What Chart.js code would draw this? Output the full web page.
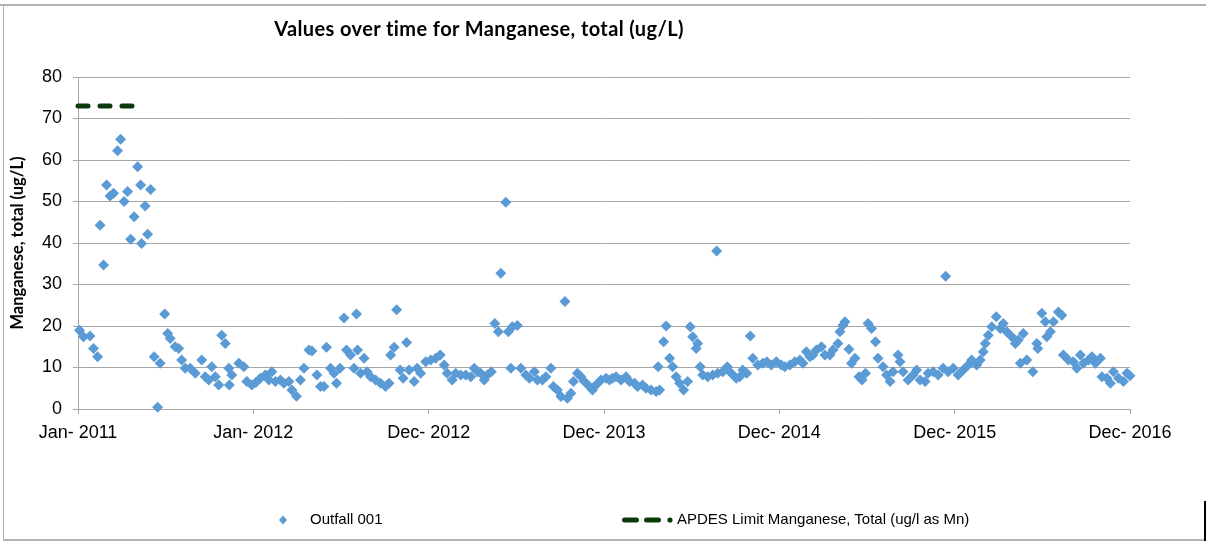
<!DOCTYPE html>
<html>
<head>
<meta charset="utf-8">
<script src="https://cdn.jsdelivr.net/npm/chart.js@4"></script>
<style>
  body { margin: 0; background: #fff; }
  #wrap { position: relative; width: 1206px; height: 541px; overflow: hidden; }
  #chart { position: absolute; left: 0; top: 0; }
  .frame { position: absolute; background: #b3b3b3; }
  #title { position: absolute; left: 0; width: 958px; top: 16px; text-align: center; letter-spacing: 0.4px;
           font: bold 20px Lato, "Liberation Sans", sans-serif; color: #000; }
  .leg { position: absolute; top: 510px; font: 15px "Liberation Sans", Arial, sans-serif; color: #000; }
</style>
</head>
<body>
<div id="wrap">
  <canvas id="chart" width="1206" height="541"></canvas>
  <div class="frame" style="left:0;top:4px;width:1206px;height:2px"></div>
  <div class="frame" style="left:3px;top:4px;width:1px;height:537px"></div>
  <div class="frame" style="left:3px;top:539px;width:1203px;height:2px"></div>
  <div style="position:absolute;left:1204px;top:501px;width:2px;height:40px;background:#000"></div>
  <div id="title">Values over time for Manganese, total (ug/L)</div>
  <div class="leg" style="left:277px">
    <svg width="12" height="18" style="vertical-align:middle"><polygon points="6,4.5 10,9 6,13.5 2,9" fill="#5b9bd5"/></svg>
  </div>
  <div class="leg" style="left:310px">Outfall 001</div>
  <div class="leg" style="left:620px">
    <svg width="56" height="18" style="vertical-align:middle">
      <line x1="4.5" y1="9" x2="40" y2="9" stroke="#0b3a0b" stroke-width="5" stroke-linecap="round" stroke-dasharray="12 10"/>
      <circle cx="50" cy="9" r="2.6" fill="#0b3a0b"/>
    </svg>
  </div>
  <div class="leg" style="left:677px">APDES Limit Manganese, Total (ug/l as Mn)</div>
</div>
<script>
// x axis: days since start of Jan 2011, ticks every 350 days
const tickLabels = ['Jan- 2011', 'Jan- 2012', 'Dec- 2012', 'Dec- 2013', 'Dec- 2014', 'Dec- 2015', 'Dec- 2016']

const sampleDays = [
  3, 11, 24, 31, 39, 44, 51, 57, 64, 71, 79, 85, 92, 99, 105, 112, 119, 125, 127, 134,
  139, 145, 152, 159, 164, 173, 179, 184, 194, 201, 207, 214, 224, 234, 247, 254, 261, 267, 274, 281,
  287, 294, 301, 302, 307, 321, 331, 337, 347, 355, 364, 374, 381, 387, 394, 404, 411, 421, 427, 436,
  444, 451, 461, 467, 477, 484, 491, 496, 504, 511, 516, 523, 531, 536, 544, 551, 556, 558, 564, 571,
  577, 584, 594, 604, 614, 621, 624, 631, 636, 643, 649, 656, 661, 671, 677, 684, 694, 704, 714, 723,
  731, 737, 747, 754, 764, 774, 784, 791, 797, 804, 811, 817, 825, 832, 839, 844, 854, 859, 864, 867,
  877, 884, 894, 901, 911, 917, 927, 934, 944, 949, 957, 964, 972, 977, 984, 989, 997, 1004, 1011, 1021,
  1027, 1034, 1044, 1054, 1061, 1067, 1074, 1084, 1094, 1101, 1111, 1117, 1127, 1134, 1144, 1154, 1158, 1161, 1169, 1174,
  1181, 1187, 1194, 1201, 1209, 1217, 1222, 1227, 1234, 1237, 1242, 1247, 1257, 1267, 1275, 1277, 1287, 1296, 1304, 1314,
  1321, 1327, 1335, 1342, 1347, 1357, 1367, 1375, 1384, 1394, 1404, 1411, 1421, 1431, 1441, 1447, 1454, 1461, 1467, 1474,
  1484, 1491, 1501, 1507, 1517, 1521, 1527, 1531, 1539, 1544, 1551, 1559, 1565, 1572, 1577, 1584, 1592, 1597, 1607, 1614,
  1621, 1627, 1637, 1641, 1647, 1657, 1667, 1674, 1681, 1691, 1697, 1707, 1717, 1727, 1732, 1737, 1747, 1757, 1767, 1777,
  1784, 1794, 1801, 1807, 1811, 1817, 1824, 1833, 1841, 1847, 1854, 1864, 1871, 1877, 1881, 1887, 1894, 1906, 1914, 1916,
  1924, 1931, 1934, 1941, 1947, 1957, 1964, 1967, 1977, 1987, 1994, 2001, 2007, 2017, 2024, 2031, 2041, 2044, 2054, 2061,
  2067, 2077, 2087, 2094, 2100
]
const outfall001 = [
  19.0, 17.4, 17.6, 14.6, 12.6, 44.3, 34.7, 54.0, 51.3, 52.0, 62.2, 65.0, 50.0, 52.4, 40.9, 46.3, 58.4, 54.0, 39.9, 48.9,
  42.1, 52.9, 12.6, 0.4, 11.0, 22.9, 18.2, 17.0, 15.0, 14.6, 11.8, 9.8, 9.8, 8.6, 11.8, 7.8, 7.0, 10.2, 7.8, 5.8,
  17.8, 15.8, 9.8, 5.8, 8.2, 11.0, 10.2, 6.6, 5.8, 6.4, 7.4, 8.2, 7.0, 9.0, 6.6, 7.0, 6.2, 6.6, 4.6, 3.1,
  7.0, 9.8, 14.2, 14.0, 8.2, 5.4, 5.4, 14.9, 9.8, 8.6, 6.2, 9.8, 21.9, 14.2, 13.0, 9.8, 22.9, 14.2, 8.6, 12.2,
  9.0, 7.8, 7.0, 6.2, 5.4, 6.2, 13.0, 14.9, 23.9, 9.4, 7.4, 16.0, 9.4, 6.6, 9.8, 8.6, 11.4, 11.8, 12.2, 13.0,
  10.6, 8.6, 7.0, 8.6, 8.2, 8.2, 7.8, 9.8, 9.0, 8.6, 7.0, 8.2, 9.0, 20.6, 18.6, 32.7, 49.8, 18.6, 9.8, 19.8,
  20.1, 9.8, 8.2, 7.4, 9.0, 7.0, 7.0, 7.8, 9.8, 5.4, 4.6, 3.0, 25.9, 2.6, 3.8, 6.6, 8.6, 7.8, 6.6, 5.4,
  4.6, 5.8, 7.0, 7.4, 7.0, 7.4, 7.8, 7.0, 7.8, 6.6, 6.2, 5.4, 5.8, 5.0, 4.6, 4.2, 10.2, 4.6, 16.2, 20.0,
  12.2, 10.2, 7.8, 6.2, 4.6, 6.6, 19.8, 17.4, 14.6, 15.8, 10.2, 8.2, 7.8, 8.2, 38.1, 8.6, 9.0, 10.2, 8.6, 7.4,
  7.8, 9.4, 8.6, 17.6, 12.2, 10.6, 11.0, 11.4, 10.6, 11.4, 10.6, 10.2, 10.6, 11.4, 11.8, 11.0, 13.8, 12.6, 13.0, 14.2,
  15.0, 13.0, 13.0, 14.2, 15.8, 18.6, 20.2, 21.0, 14.4, 11.0, 12.2, 7.8, 7.0, 8.6, 20.6, 19.4, 16.2, 12.2, 10.2, 8.2,
  6.6, 9.0, 13.0, 11.4, 9.0, 7.0, 8.2, 9.4, 7.0, 6.6, 8.6, 9.0, 8.2, 9.8, 32.0, 9.0, 9.8, 8.2, 9.4, 10.6,
  11.8, 10.6, 11.8, 13.8, 15.8, 17.8, 19.8, 22.2, 19.4, 20.6, 18.6, 17.4, 15.8, 16.6, 11.0, 18.2, 11.8, 9.0, 15.8, 14.6,
  23.1, 21.0, 17.4, 18.6, 21.0, 23.4, 22.6, 13.0, 11.8, 11.4, 9.8, 13.0, 11.0, 11.8, 12.6, 11.0, 12.2, 7.8, 7.4, 6.2,
  9.0, 7.4, 6.6, 8.6, 8.0
]

const limitDays = [0, 118]
const limitValues = [73, 73]

const outfallPoints = sampleDays.map((d, i) => ({ x: d, y: outfall001[i] }))
const limitPoints = limitDays.map((d, i) => ({ x: d, y: limitValues[i] }))

const gridGray = '#a6a6a6'
const tickFont = { family: '"Liberation Sans", Arial, sans-serif', size: 18 }

new Chart('chart', {
  type: 'scatter',
  data: {
    datasets: [
      {
        label: 'Outfall 001',
        data: outfallPoints,
        pointStyle: 'rectRot',
        pointRadius: 5.5,
        pointHoverRadius: 5.5,
        backgroundColor: '#5b9bd5',
        borderColor: '#5b9bd5',
        borderWidth: 0,
        clip: 8,
      },
      {
        label: 'APDES Limit Manganese, Total (ug/l as Mn)',
        data: limitPoints,
        showLine: true,
        borderColor: '#0b3a0b',
        borderWidth: 5,
        borderDash: [10, 12],
        borderCapStyle: 'round',
        pointRadius: 0,
        clip: 8,
      },
    ],
  },
  options: {
    responsive: false,
    animation: false,
    events: [],
    layout: { padding: { left: 8, right: 76, top: 77, bottom: 0 } },
    plugins: {
      legend: { display: false },
      title: { display: false },
      tooltip: { enabled: false },
    },
    scales: {
      x: {
        type: 'linear',
        min: 0,
        max: 2100,
        afterFit: (scale) => { scale.height = 132 },
        afterBuildTicks: (scale) => {
          scale.ticks = tickLabels.map((t, i) => ({ value: i * 350 }))
        },
        ticks: {
          callback: (v) => tickLabels[Math.round(v / 350)],
          maxRotation: 0,
          autoSkip: false,
          padding: 8,
          color: '#000',
          font: tickFont,
        },
        grid: { drawOnChartArea: false, drawTicks: true, tickLength: 5, color: gridGray },
        border: { color: gridGray },
      },
      y: {
        min: 0,
        max: 80,
        afterFit: (scale) => { scale.width = 70 },
        ticks: {
          stepSize: 10,
          padding: 11,
          color: '#000',
          font: tickFont,
        },
        grid: { color: gridGray, tickLength: 5 },
        border: { color: gridGray },
        title: {
          display: true,
          text: 'Manganese, total (ug/L)',
          color: '#000',
          padding: { top: 0, bottom: 0 },
          font: { family: 'Lato, "Liberation Sans", sans-serif', size: 16.5, weight: 'bold' },
        },
      },
    },
  },
})
</script>
</body>
</html>
